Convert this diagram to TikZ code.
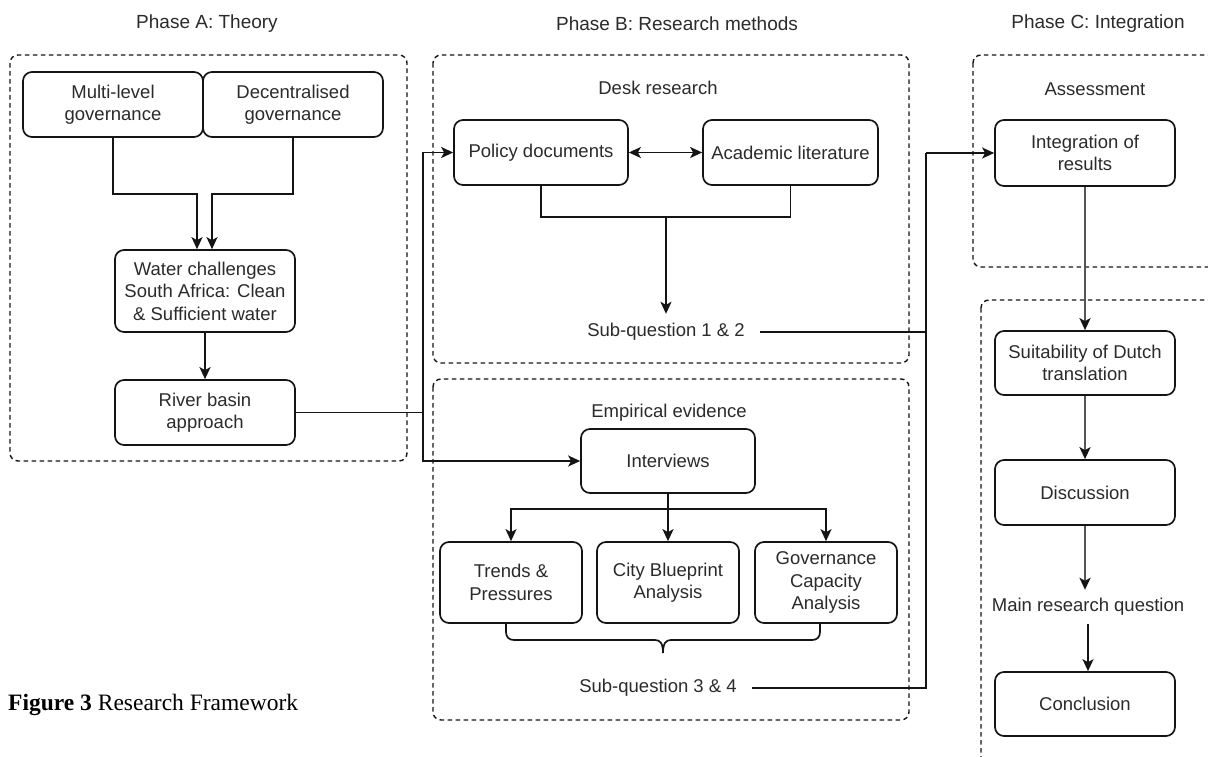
\documentclass[tikz,border=0pt]{standalone}
\usepackage{fontspec}
\setmainfont{Liberation Sans}
\newfontfamily\capfont{Liberation Serif}
\usetikzlibrary{arrows.meta}
\definecolor{ink}{HTML}{141414}
\definecolor{txt}{HTML}{2B2B2B}
\definecolor{flow}{HTML}{555555}
\begin{document}
\begin{tikzpicture}[x=1pt,y=-1pt,
  font=\fontsize{18.5}{22.5}\selectfont,
  box/.style={draw=ink,line width=1.7pt,rounded corners=9pt,align=center,
    text=txt,inner sep=2pt},
  label/.style={text=txt,inner xsep=15pt,inner ysep=0pt,minimum height=36pt},
  title/.style={text=txt,font=\fontsize{19}{23}\selectfont},
  phase/.style={draw=ink,line width=1.4pt,dash pattern=on 4.5pt off 3.5pt,rounded corners=8pt},
  tip/.style={Stealth[length=12pt,width=11pt,inset=3pt]},
  wire/.style={draw=ink,line width=1.7pt},
  arr/.style={wire,-{Stealth[length=12pt,width=11pt,inset=3pt]}},
  grayarr/.style={draw=flow,line width=2.2pt,-{Stealth[length=12pt,width=11pt,inset=3pt,color=ink]}}]
\useasboundingbox (0,0) rectangle (1208,756);
\fill[white] (0,0) rectangle (1208,756);

% phase titles
\node[title] (ta) at (207,24) {Phase A: Theory};
\node[title] (tb) at (677,24) {Phase B: Research methods};
\node[title] (tc) at (1098,24) {Phase C: Integration};

% dashed phase frames
\begin{scope}
\clip (0,0) rectangle (1208,756);
\draw[phase] (10,55) rectangle (407,461);
\draw[phase] (433,55) rectangle (909,363);
\draw[phase] (433,379) rectangle (909,720);
\draw[phase] (973,55) rectangle (1222,267);
\draw[phase] (981,300) rectangle (1222,780);
\end{scope}

% Phase A: theory
\node[box,minimum width=180pt,minimum height=65pt] (ml) at (113,104.5) {Multi-level\\governance};
\node[box,minimum width=180pt,minimum height=65pt] (dc) at (293,104.5) {Decentralised\\governance};
\node[box,minimum width=180pt,minimum height=82pt] (wc) at (205,291) {Water challenges\\South Africa: Clean\\\& Sufficient water};
\node[box,minimum width=180pt,minimum height=65pt] (rb) at (205,412.5) {River basin\\approach};

% Phase B: desk research
\node[text=txt] (dr) at (658,88) {Desk research};
\node[box,minimum width=174pt,minimum height=65pt] (pd) at (541,152.5) {Policy documents};
\node[box,minimum width=175pt,minimum height=65pt] (al) at (790.5,152.5) {Academic literature};
\node[label] (sq1) at (666,332) {Sub-question 1 \& 2};

% Phase B: empirical evidence
\node[text=txt] (ee) at (669,413) {Empirical evidence};
\node[box,minimum width=174pt,minimum height=64pt] (iv) at (668,461) {Interviews};
\node[box,minimum width=142pt,minimum height=81pt] (tp) at (511,582.5) {Trends \&\\Pressures};
\node[box,minimum width=142pt,minimum height=81pt] (cb) at (668,582.5) {City Blueprint\\Analysis};
\node[box,minimum width=142pt,minimum height=81pt] (gc) at (826,582.5) {Governance\\Capacity\\Analysis};
\node[label] (sq3) at (658,688) {Sub-question 3 \& 4};

% Phase C: integration
\node[text=txt] (as) at (1095,89) {Assessment};
\node[box,minimum width=180pt,minimum height=66pt] (ir) at (1085,153) {Integration of\\results};
\node[box,minimum width=180pt,minimum height=64pt] (su) at (1085,363) {Suitability of Dutch\\translation};
\node[box,minimum width=180pt,minimum height=65pt] (ds) at (1085,492.5) {Discussion};
\node[label,minimum height=34pt] (mq) at (1088,607) {Main research question};
\node[box,minimum width=180pt,minimum height=64pt] (cn) at (1085,704) {Conclusion};

% caption
\node[anchor=west,inner sep=0pt,font=\capfont\fontsize{23.5}{28}\selectfont] (cap) at (8,705)
  {\textbf{Figure 3} Research Framework};

% junction points
\coordinate (j1) at (423,412.5);
\coordinate (m1) at (666,217);
\coordinate (vt) at (926,153);
\coordinate (b1) at (668,509);

% connectors, Phase A
\draw[arr] (ml.south) -- ++(0,56) -| ([xshift=-8pt]wc.north);
\draw[arr] (dc.south) -- ++(0,56) -| ([xshift=7pt]wc.north);
\draw[arr,line width=2.2pt] (wc.south) -- (rb.north);

% theory feeds both research tracks
\draw[wire] (rb.east) -- (j1);
\draw[arr] (j1) |- (pd.west);
\draw[arr] (j1) |- (iv.west);

% desk research
\draw[wire,{Stealth[length=12pt,width=11pt,inset=3pt]}-{Stealth[length=12pt,width=11pt,inset=3pt]}] (pd.east) -- (al.west);
\draw[wire] (pd.south) |- (m1) -| (al.south);
\draw[arr] (m1) -- (sq1.north);

% empirical evidence
\draw[wire,line width=2.2pt] (iv.south) -- (b1);
\draw[arr] (b1) -| (tp.north);
\draw[arr] (b1) -| (gc.north);
\draw[arr,line width=2.2pt] (b1) -- (cb.north);

% brace under the three analyses
\draw[wire] ([xshift=-5pt]tp.south) -- (506,632)
  .. controls (506,637) and (509,640) .. (514,640) -- (655,640)
  .. controls (660,640) and (663,643) .. (663,653)
  .. controls (663,643) and (666,640) .. (671,640) -- (812,640)
  .. controls (817,640) and (820,637) .. (820,632) -- ([xshift=-6pt]gc.south);

% results to integration
\draw[wire] (sq1.east) -| (vt);
\draw[wire] (sq3.east) -| (vt);
\draw[arr] (vt) -- (ir.west);

% integration chain
\draw[grayarr] (ir.south) -- (su.north);
\draw[grayarr] (su.south) -- (ds.north);
\draw[grayarr] (ds.south) -- ([xshift=-3pt]mq.north);
\draw[arr] (mq.south) -- ([xshift=3pt]cn.north);
\end{tikzpicture}
\end{document}
